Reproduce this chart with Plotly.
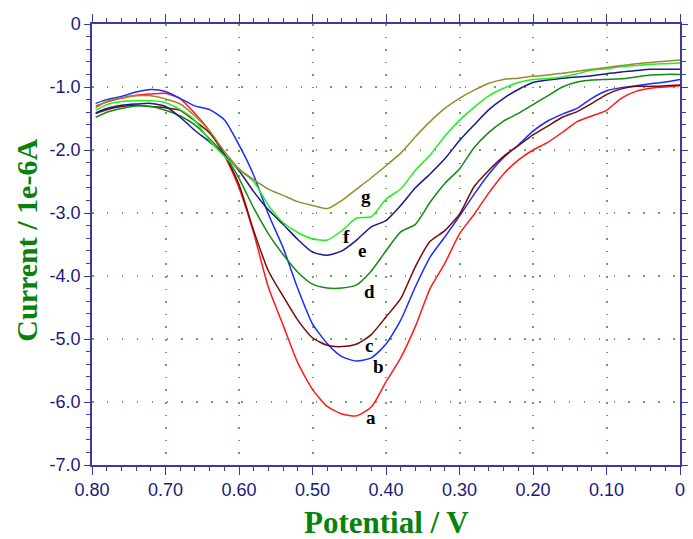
import plotly.graph_objects as go

potential = [0.795, 0.78, 0.76, 0.74, 0.72, 0.70, 0.68, 0.66, 0.64, 0.62, 0.60,
             0.58, 0.56, 0.54, 0.52, 0.50, 0.48, 0.46, 0.44, 0.42, 0.40,
             0.38, 0.36, 0.34, 0.32, 0.30, 0.28, 0.26, 0.24, 0.22, 0.20,
             0.18, 0.16, 0.14, 0.12, 0.10, 0.08, 0.06, 0.04, 0.02, 0.00]

cur_a = [-1.30, -1.24, -1.18, -1.13, -1.11, -1.10, -1.19, -1.42, -1.70, -2.08, -2.60,
         -3.32, -4.18, -4.78, -5.38, -5.80, -6.07, -6.19, -6.22, -6.08, -5.68,
         -5.30, -4.80, -4.20, -3.80, -3.33, -3.02, -2.68, -2.38, -2.16, -2.00,
         -1.88, -1.72, -1.55, -1.46, -1.37, -1.18, -1.07, -1.02, -1.00, -0.98]
cur_b = [-1.26, -1.20, -1.15, -1.08, -1.04, -1.07, -1.18, -1.30, -1.36, -1.52, -1.92,
         -2.40, -3.02, -3.55, -4.20, -4.76, -5.07, -5.28, -5.35, -5.30, -5.08,
         -4.70, -4.17, -3.70, -3.38, -3.05, -2.70, -2.38, -2.12, -1.92, -1.70,
         -1.54, -1.43, -1.34, -1.18, -1.06, -1.01, -0.98, -0.95, -0.92, -0.88]
cur_c = [-1.42, -1.36, -1.31, -1.29, -1.31, -1.33, -1.37, -1.54, -1.73, -2.06, -2.55,
         -3.28, -3.92, -4.32, -4.70, -4.98, -5.10, -5.12, -5.08, -4.93, -4.65,
         -4.36, -3.85, -3.45, -3.28, -3.02, -2.58, -2.32, -2.10, -1.93, -1.76,
         -1.62, -1.48, -1.39, -1.26, -1.12, -1.03, -0.99, -0.99, -0.98, -0.97]
cur_d = [-1.48, -1.40, -1.34, -1.30, -1.31, -1.37, -1.46, -1.60, -1.82, -2.07, -2.45,
         -2.92, -3.33, -3.66, -3.94, -4.13, -4.19, -4.19, -4.14, -3.92, -3.60,
         -3.30, -3.18, -2.83, -2.53, -2.30, -1.96, -1.72, -1.54, -1.42, -1.28,
         -1.14, -1.00, -0.92, -0.89, -0.88, -0.87, -0.84, -0.81, -0.80, -0.80]
cur_e = [-1.41, -1.34, -1.29, -1.27, -1.26, -1.31, -1.48, -1.69, -1.87, -2.08, -2.33,
         -2.66, -2.95, -3.18, -3.42, -3.62, -3.67, -3.60, -3.43, -3.22, -3.12,
         -2.88, -2.60, -2.38, -2.14, -1.85, -1.60, -1.36, -1.18, -1.04, -0.93,
         -0.89, -0.86, -0.84, -0.82, -0.79, -0.76, -0.74, -0.72, -0.72, -0.72]
cur_f = [-1.37, -1.28, -1.23, -1.22, -1.22, -1.25, -1.36, -1.53, -1.85, -2.10, -2.31,
         -2.50, -2.88, -3.15, -3.31, -3.41, -3.43, -3.28, -3.08, -3.06, -2.78,
         -2.62, -2.32, -2.08, -1.78, -1.53, -1.32, -1.14, -1.02, -0.93, -0.88,
         -0.87, -0.84, -0.79, -0.73, -0.71, -0.68, -0.66, -0.64, -0.63, -0.62]
cur_g = [-1.33, -1.23, -1.17, -1.14, -1.14, -1.19, -1.27, -1.46, -1.70, -2.02, -2.30,
         -2.47, -2.62, -2.72, -2.82, -2.88, -2.93, -2.80, -2.62, -2.44, -2.25,
         -2.05, -1.79, -1.55, -1.34, -1.18, -1.05, -0.94, -0.88, -0.86, -0.83,
         -0.81, -0.78, -0.75, -0.72, -0.69, -0.66, -0.63, -0.61, -0.59, -0.57]

series_names = ["a", "b", "c", "d", "e", "f", "g"]
series_values = [cur_a, cur_b, cur_c, cur_d, cur_e, cur_f, cur_g]
series_colors = ["#ff1a1a", "#1a2cff", "#7a0a0a", "#138a13", "#1a1a8c", "#22ee22", "#9a8a2a"]

label_x = [0.420, 0.410, 0.423, 0.423, 0.432, 0.454, 0.427]
label_y = [-6.25, -5.44, -5.10, -4.25, -3.59, -3.38, -2.74]

x_tickvals = [0.8, 0.7, 0.6, 0.5, 0.4, 0.3, 0.2, 0.1, 0.0]
x_ticktext = ["0.80", "0.70", "0.60", "0.50", "0.40", "0.30", "0.20", "0.10", "0"]
y_tickvals = [0, -1, -2, -3, -4, -5, -6, -7]
y_ticktext = ["0", "-1.0", "-2.0", "-3.0", "-4.0", "-5.0", "-6.0", "-7.0"]

fig = go.Figure()
for name, vals, col in zip(series_names, series_values, series_colors):
    fig.add_trace(go.Scatter(x=potential, y=vals, mode="lines", name=name,
                             line=dict(color=col, width=1.5, shape="spline", smoothing=0.6)))

for name, lx, ly in zip(series_names, label_x, label_y):
    fig.add_annotation(x=lx, y=ly, text="<b>" + name + "</b>", showarrow=False,
                       font=dict(family="Liberation Serif", size=19, color="black"),
                       xanchor="center", yanchor="middle")

axis_color = "#3a3aa0"
tick_font = dict(family="Liberation Sans", size=18, color="#1a1a7a")

fig.update_xaxes(range=[0.8, 0.0], tickvals=x_tickvals, ticktext=x_ticktext,
                 showline=True, linecolor=axis_color, linewidth=1.5, mirror="ticks",
                 ticks="outside", ticklen=8, tickwidth=1.2, tickcolor=axis_color,
                 minor=dict(dtick=0.02, ticks="outside", ticklen=4, tickcolor=axis_color, showgrid=False),
                 showgrid=True, gridcolor="#6aa84f", gridwidth=1.5, griddash="1.5px,11.1px",
                 zeroline=False, tickfont=tick_font)
fig.update_yaxes(range=[-7.0, 0.0], tickvals=y_tickvals, ticktext=y_ticktext,
                 showline=True, linecolor=axis_color, linewidth=1.5, mirror="ticks",
                 ticks="outside", ticklen=6, tickwidth=1.2, tickcolor=axis_color,
                 minor=dict(dtick=0.2, ticks="outside", ticklen=4, tickcolor=axis_color, showgrid=False),
                 showgrid=True, gridcolor="#6aa84f", gridwidth=1.5, griddash="1.5px,13.4px",
                 zeroline=False, tickfont=tick_font)

fig.add_annotation(xref="paper", yref="paper", x=0.5, y=-0.13, text="<b>Potential / V</b>",
                   showarrow=False, xanchor="center", yanchor="middle",
                   font=dict(family="Liberation Serif", size=31, color="#0a820a"))
fig.add_annotation(xref="paper", yref="paper", x=-0.112, y=0.509, text="<b>Current / 1e-6A</b>",
                   showarrow=False, xanchor="center", yanchor="middle", textangle=-90,
                   font=dict(family="Liberation Serif", size=30, color="#0a820a"))

fig.update_layout(width=693, height=539, margin=dict(l=92, r=5, t=24, b=74),
                  paper_bgcolor="white", plot_bgcolor="white", showlegend=False)

fig.write_html("out.html")
